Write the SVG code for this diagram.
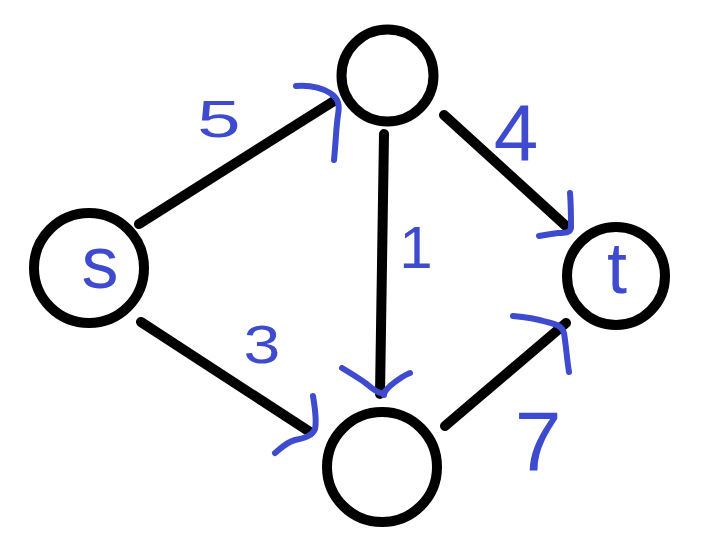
<svg xmlns="http://www.w3.org/2000/svg" width="705" height="550" viewBox="0 0 705 550">
<style>
.node{fill:none;stroke:#000;stroke-width:10}
.edge{stroke:#000;stroke-width:10;stroke-linecap:round;fill:none}
.ah{stroke:#3f4bcf;stroke-width:6;stroke-linecap:round;stroke-linejoin:round;fill:none}
.lbl{font-family:"Liberation Sans",Arial,sans-serif;fill:#3f4bcf;text-anchor:middle}
</style>
<rect width="705" height="550" fill="#fff"/>
<g id="connectors">
  <line class="edge" x1="139" y1="224" x2="334" y2="101"/>
  <line class="edge" x1="141" y1="322" x2="310" y2="432"/>
  <line class="edge" x1="384" y1="134" x2="380" y2="394"/>
  <line class="edge" x1="444" y1="115" x2="567" y2="227"/>
  <line class="edge" x1="445" y1="426" x2="566" y2="323"/>
  <path class="ah" d="M296,86 C310,85 322,88 330,93 C338,98 340,104 338,115 C336,128 336,140 334,160"/>
  <path class="ah" d="M313,396 C315,408 317,420 315,429 C312,436 305,438 295,440 C287,442 282,447 275,453"/>
  <path class="ah" d="M342,368 C352,374 362,380 368,385 C374,390 378,393 381,393 M410,373 C402,376 396,381 390,386 C386,390 384,392 384,395"/>
  <path class="ah" d="M570,193 C571,205 571,218 571,228 C570,233 565,233 558,233 C550,234 544,235 539,236"/>
  <path class="ah" d="M513,316 C525,317 537,319 547,322 C556,324 562,326 564,333 C566,345 567,360 569,372"/>
</g>
<g id="node-s">
  <circle class="node" cx="89" cy="268" r="55"/>
  <text class="lbl" x="100" y="288" font-size="74">s</text>
</g>
<g id="node-top">
  <circle class="node" cx="387.5" cy="75.5" r="46"/>
</g>
<g id="node-bottom">
  <circle class="node" cx="382" cy="467" r="55"/>
</g>
<g id="node-t">
  <circle class="node" cx="616" cy="276" r="49"/>
  <text class="lbl" x="617" y="293" font-size="72">t</text>
</g>
<g id="labels">
  <text class="lbl" font-size="52" transform="translate(219,137) scale(1.5,1)">5</text>
  <text class="lbl" font-size="53" transform="translate(262,363) scale(1.25,1)">3</text>
  <text class="lbl" x="416" y="268" font-size="60">1</text>
  <text class="lbl" x="516" y="160" font-size="80">4</text>
  <text class="lbl" x="538" y="470" font-size="84">7</text>
</g>
</svg>
